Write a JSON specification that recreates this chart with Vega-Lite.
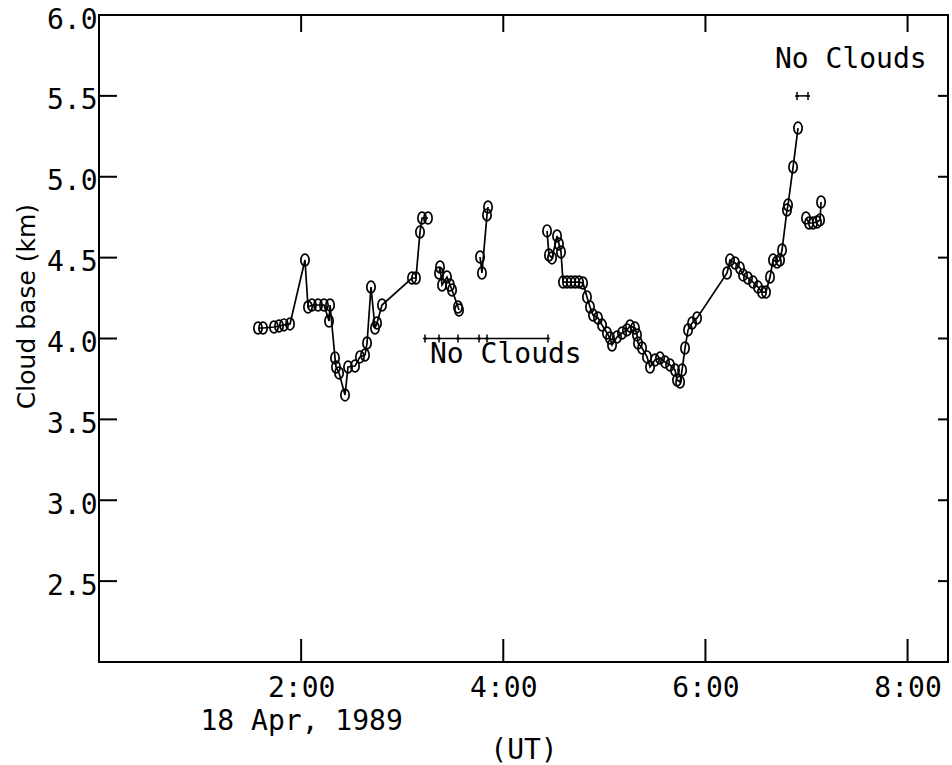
{
  "$schema": "https://vega.github.io/schema/vega-lite/v6.json",
  "width": 849,
  "height": 647,
  "autosize": {"type": "none"},
  "padding": {"left": 99, "top": 15, "right": 4, "bottom": 103},
  "background": "white",
  "config": {
    "view": {"stroke": "black", "strokeWidth": 2},
    "axis": {"grid": false, "labelColor": "black", "titleColor": "black", "labelFont": "DejaVu Sans Mono", "labelFontSize": 28, "labelLimit": 0, "titleFont": "DejaVu Sans Mono", "titleFontSize": 28, "titleFontWeight": "normal"}
  },
  "datasets": {
    "cloud": [
      {"t":1.573,"b":4.065,"s":1},{"t":1.623,"b":4.065,"s":1},{"t":1.731,"b":4.071,"s":1},{"t":1.781,"b":4.077,"s":1},{"t":1.830,"b":4.084,"s":1},{"t":1.890,"b":4.090,"s":1},
      {"t":2.038,"b":4.485,"s":1},{"t":2.068,"b":4.195,"s":1},{"t":2.107,"b":4.207,"s":1},{"t":2.167,"b":4.207,"s":1},{"t":2.226,"b":4.207,"s":1},{"t":2.286,"b":4.207,"s":1},
      {"t":2.276,"b":4.108,"s":1},{"t":2.335,"b":3.880,"s":1},{"t":2.345,"b":3.824,"s":1},{"t":2.375,"b":3.787,"s":1},{"t":2.434,"b":3.651,"s":1},{"t":2.464,"b":3.824,"s":1},
      {"t":2.533,"b":3.830,"s":1},{"t":2.582,"b":3.886,"s":1},{"t":2.632,"b":3.898,"s":1},{"t":2.652,"b":3.972,"s":1},{"t":2.691,"b":4.318,"s":1},{"t":2.731,"b":4.065,"s":1},
      {"t":2.751,"b":4.096,"s":1},{"t":2.800,"b":4.207,"s":1},{"t":3.097,"b":4.374,"s":1},{"t":3.136,"b":4.374,"s":1},{"t":3.176,"b":4.658,"s":1},{"t":3.196,"b":4.745,"s":1},{"t":3.255,"b":4.745,"s":1},
      {"t":3.364,"b":4.405,"s":2},{"t":3.374,"b":4.442,"s":2},{"t":3.394,"b":4.331,"s":2},{"t":3.443,"b":4.380,"s":2},{"t":3.473,"b":4.331,"s":2},{"t":3.493,"b":4.300,"s":2},{"t":3.552,"b":4.195,"s":2},{"t":3.562,"b":4.176,"s":2},
      {"t":3.770,"b":4.504,"s":3},{"t":3.789,"b":4.405,"s":3},{"t":3.839,"b":4.764,"s":3},{"t":3.849,"b":4.813,"s":3},
      {"t":4.433,"b":4.665,"s":4},{"t":4.452,"b":4.516,"s":4},{"t":4.482,"b":4.498,"s":4},{"t":4.532,"b":4.634,"s":4},{"t":4.551,"b":4.584,"s":4},{"t":4.571,"b":4.535,"s":4},
      {"t":4.591,"b":4.349,"s":4},{"t":4.630,"b":4.349,"s":4},{"t":4.670,"b":4.349,"s":4},{"t":4.710,"b":4.349,"s":4},{"t":4.749,"b":4.349,"s":4},{"t":4.789,"b":4.343,"s":4},
      {"t":4.828,"b":4.257,"s":4},{"t":4.858,"b":4.195,"s":4},{"t":4.888,"b":4.145,"s":4},{"t":4.937,"b":4.127,"s":4},{"t":4.977,"b":4.083,"s":4},{"t":5.026,"b":4.034,"s":4},
      {"t":5.056,"b":4.003,"s":4},{"t":5.076,"b":3.960,"s":4},{"t":5.125,"b":4.009,"s":4},{"t":5.175,"b":4.034,"s":4},{"t":5.224,"b":4.053,"s":4},{"t":5.254,"b":4.077,"s":4},
      {"t":5.303,"b":4.065,"s":4},{"t":5.323,"b":4.022,"s":4},{"t":5.333,"b":3.972,"s":4},{"t":5.373,"b":3.941,"s":4},{"t":5.422,"b":3.886,"s":4},{"t":5.452,"b":3.824,"s":4},
      {"t":5.501,"b":3.867,"s":4},{"t":5.551,"b":3.879,"s":4},{"t":5.600,"b":3.855,"s":4},{"t":5.650,"b":3.836,"s":4},{"t":5.699,"b":3.805,"s":4},{"t":5.719,"b":3.743,"s":4},
      {"t":5.749,"b":3.731,"s":4},{"t":5.769,"b":3.805,"s":4},{"t":5.798,"b":3.941,"s":4},{"t":5.828,"b":4.053,"s":4},{"t":5.868,"b":4.096,"s":4},{"t":5.917,"b":4.127,"s":4},
      {"t":6.214,"b":4.405,"s":4},{"t":6.243,"b":4.485,"s":4},{"t":6.293,"b":4.467,"s":4},{"t":6.342,"b":4.436,"s":4},{"t":6.372,"b":4.393,"s":4},{"t":6.421,"b":4.374,"s":4},
      {"t":6.471,"b":4.349,"s":4},{"t":6.520,"b":4.318,"s":4},{"t":6.560,"b":4.287,"s":4},{"t":6.599,"b":4.287,"s":4},{"t":6.639,"b":4.380,"s":4},{"t":6.669,"b":4.485,"s":4},
      {"t":6.708,"b":4.473,"s":4},{"t":6.738,"b":4.485,"s":4},{"t":6.758,"b":4.547,"s":4},{"t":6.807,"b":4.794,"s":4},{"t":6.817,"b":4.825,"s":4},{"t":6.867,"b":5.060,"s":4},{"t":6.916,"b":5.301,"s":4},
      {"t":6.995,"b":4.745,"s":5},{"t":7.025,"b":4.714,"s":5},{"t":7.064,"b":4.714,"s":5},{"t":7.104,"b":4.720,"s":5},{"t":7.134,"b":4.733,"s":5},{"t":7.144,"b":4.844,"s":5}
    ],
    "nc": [
      {"t":3.225,"b":4.0,"g":"A"},{"t":3.364,"b":4.0,"g":"A"},{"t":3.552,"b":4.0,"g":"A"},{"t":3.760,"b":4.0,"g":"A"},{"t":3.839,"b":4.0,"g":"A"},{"t":4.442,"b":4.0,"g":"A"},
      {"t":6.906,"b":5.5,"g":"B"},{"t":7.015,"b":5.5,"g":"B"}
    ],
    "labels": [
      {"t":3.275,"b":3.849,"txt":"No Clouds"},
      {"t":6.688,"b":5.672,"txt":"No Clouds"}
    ],
    "tb": [{"t":2,"b":2},{"t":4,"b":2},{"t":6,"b":2},{"t":8,"b":2}],
    "tt": [{"t":2,"b":6},{"t":4,"b":6},{"t":6,"b":6},{"t":8,"b":6}],
    "tl": [{"t":0,"b":2.5},{"t":0,"b":3},{"t":0,"b":3.5},{"t":0,"b":4},{"t":0,"b":4.5},{"t":0,"b":5},{"t":0,"b":5.5},{"t":0,"b":6}],
    "tr": [{"t":8.4,"b":2.5},{"t":8.4,"b":3},{"t":8.4,"b":3.5},{"t":8.4,"b":4},{"t":8.4,"b":4.5},{"t":8.4,"b":5},{"t":8.4,"b":5.5},{"t":8.4,"b":6}]
  },
  "resolve": {"axis": {"x": "independent", "y": "independent"}},
  "layer": [
    {
      "data": {"name": "cloud"},
      "mark": {"type": "line", "color": "black", "strokeWidth": 1.7},
      "encoding": {
        "x": {"field": "t", "type": "quantitative", "scale": {"domain": [0, 8.4], "nice": false, "zero": false},
          "axis": {"orient": "bottom", "values": [2, 4, 6, 8], "ticks": false, "domain": false, "labelPadding": 12, "labelBaseline": "top", "labelLineHeight": 33,
            "labelExpr": "datum.value == 2 ? ['2:00', '18 Apr, 1989'] : format(datum.value, 'd') + ':00'",
            "title": "(UT)", "titleBaseline": "alphabetic", "titleY": 96}},
        "y": {"field": "b", "type": "quantitative", "scale": {"domain": [2, 6], "nice": false, "zero": false},
          "axis": {"orient": "left", "values": [2.5, 3, 3.5, 4, 4.5, 5, 5.5, 6], "format": ".1f", "ticks": false, "domain": false, "labelPadding": 2, "labelBaseline": "middle", "labelOffset": 5,
            "title": "Cloud base (km)", "titleFont": "DejaVu Sans", "titleFontSize": 25, "titleAngle": 270, "titleBaseline": "alphabetic", "titleAlign": "center", "titleX": -65, "titleY": 291}},
        "detail": {"field": "s", "type": "nominal"}
      }
    },
    {
      "data": {"name": "cloud"},
      "mark": {"type": "point", "shape": "M-0.7,0A0.7,1 0 1,1 0.7,0A0.7,1 0 1,1 -0.7,0Z", "filled": false, "stroke": "black", "strokeWidth": 1.7, "size": 140, "opacity": 1},
      "encoding": {
        "x": {"field": "t", "type": "quantitative", "axis": null},
        "y": {"field": "b", "type": "quantitative", "axis": null}
      }
    },
    {
      "data": {"name": "nc"},
      "mark": {"type": "line", "color": "black", "strokeWidth": 1.5},
      "encoding": {
        "x": {"field": "t", "type": "quantitative", "axis": null},
        "y": {"field": "b", "type": "quantitative", "axis": null},
        "detail": {"field": "g", "type": "nominal"}
      }
    },
    {
      "data": {"name": "nc"},
      "mark": {"type": "point", "shape": "M0,-1V1M-0.5,0H0.5", "filled": false, "stroke": "black", "strokeWidth": 1.5, "size": 64, "opacity": 1},
      "encoding": {
        "x": {"field": "t", "type": "quantitative", "axis": null},
        "y": {"field": "b", "type": "quantitative", "axis": null}
      }
    },
    {
      "data": {"name": "tb"},
      "mark": {"type": "point", "shape": "M0,0V-1", "filled": false, "stroke": "black", "strokeWidth": 2, "size": 2116, "opacity": 1},
      "encoding": {
        "x": {"field": "t", "type": "quantitative", "axis": null},
        "y": {"field": "b", "type": "quantitative", "axis": null}
      }
    },
    {
      "data": {"name": "tt"},
      "mark": {"type": "point", "shape": "M0,0V1", "filled": false, "stroke": "black", "strokeWidth": 2, "size": 1156, "opacity": 1},
      "encoding": {
        "x": {"field": "t", "type": "quantitative", "axis": null},
        "y": {"field": "b", "type": "quantitative", "axis": null}
      }
    },
    {
      "data": {"name": "tl"},
      "mark": {"type": "point", "shape": "M0,0H1", "filled": false, "stroke": "black", "strokeWidth": 2, "size": 1296, "opacity": 1},
      "encoding": {
        "x": {"field": "t", "type": "quantitative", "axis": null},
        "y": {"field": "b", "type": "quantitative", "axis": null}
      }
    },
    {
      "data": {"name": "tr"},
      "mark": {"type": "point", "shape": "M0,0H-1", "filled": false, "stroke": "black", "strokeWidth": 2, "size": 400, "opacity": 1},
      "encoding": {
        "x": {"field": "t", "type": "quantitative", "axis": null},
        "y": {"field": "b", "type": "quantitative", "axis": null}
      }
    },
    {
      "data": {"name": "labels"},
      "mark": {"type": "text", "font": "DejaVu Sans Mono", "fontSize": 28, "align": "left", "baseline": "alphabetic", "color": "black"},
      "encoding": {
        "x": {"field": "t", "type": "quantitative", "axis": null},
        "y": {"field": "b", "type": "quantitative", "axis": null},
        "text": {"field": "txt"}
      }
    }
  ]
}
